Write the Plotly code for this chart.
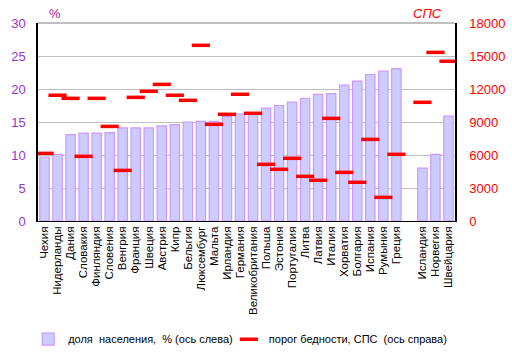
import plotly.graph_objects as go

countries = ["Чехия", "Нидерланды", "Дания", "Словакия", "Финляндия", "Словения", "Венгрия",
             "Франция", "Швеция", "Австрия", "Кипр", "Бельгия", "Люксембург", "Мальта",
             "Ирландия", "Германия", "Великобритания", "Польша", "Эстония", "Португалия",
             "Литва", "Латвия", "Италия", "Хорватия", "Болгария", "Испания", "Румыния", "Греция",
             " ", "Исландия", "Норвегия", "Швейцария"]

share_pct = [9.7, 10.1, 13.1, 13.3, 13.3, 13.4, 14.1, 14.1, 14.1, 14.4, 14.6, 15.0, 15.1, 15.1,
             15.8, 16.2, 16.3, 17.1, 17.5, 18.0, 18.6, 19.2, 19.3, 20.6, 21.2, 22.2, 22.7, 23.1,
             None, 8.0, 10.1, 15.9]

threshold_pps = [6150, 11430, 11150, 5880, 11150, 8600, 4600, 11240, 11790, 12420, 11430, 10970,
                 15970, 8790, 9700, 11520, 9790, 5150, 4700, 5700, 4060, 3700, 9330, 4420, 3520,
                 7420, 2150, 6060, None, 10790, 15330, 14520]

fig = go.Figure()
fig.add_trace(go.Bar(
    x=countries, y=share_pct, name="доля  населения,  % (ось слева)",
    marker=dict(color="#CCCCFF", line=dict(color="#CC99FF", width=1.2)),
    legend="legend",
))
fig.add_trace(go.Scatter(
    x=countries, y=threshold_pps, yaxis="y2", mode="markers",
    name="порог бедности, СПС  (ось справа)",
    marker=dict(symbol="line-ew", size=13, color="#FF0000",
                line=dict(color="#FF0000", width=3.5)),
    legend="legend2",
))

font = "Liberation Sans, Arial, sans-serif"
leg_common = dict(orientation="h", xref="container", yref="container", xanchor="left",
                  y=0.042, yanchor="middle", font=dict(size=11, color="black"),
                  itemwidth=30, bgcolor="rgba(0,0,0,0)")
fig.update_layout(
    width=512, height=354,
    margin=dict(l=38, r=57, t=23, b=133, autoexpand=False),
    paper_bgcolor="white", plot_bgcolor="white",
    bargap=0.28,
    showlegend=True,
    font=dict(family=font, size=12, color="black"),
    xaxis=dict(type="category", tickangle=-90, tickfont=dict(size=11.5, color="black"),
               tickmode="array", tickvals=countries, ticktext=countries,
               showline=True, linecolor="black", linewidth=1, ticks="",
               showgrid=False, range=[-0.5, 31.5], automargin=False),
    yaxis=dict(range=[0, 30], dtick=5, showgrid=True, gridcolor="#C0C0C0", gridwidth=1,
               showline=True, linecolor="black", linewidth=1.5,
               tickfont=dict(size=13, color="#9933CC"), zeroline=False, ticks="",
               ticklabelstandoff=8, automargin=False),
    yaxis2=dict(range=[0, 18000], dtick=3000, tickformat="d", overlaying="y", side="right",
                showgrid=False, showline=True, linecolor="black", linewidth=1.5,
                tickfont=dict(size=13, color="#FF0000"), zeroline=False, ticks="",
                ticklabelstandoff=10, automargin=False),
    legend=dict(x=0.055, **leg_common),
    legend2=dict(x=0.447, **leg_common),
    shapes=[dict(type="line", xref="paper", yref="paper", x0=0, x1=1, y0=1, y1=1,
                 line=dict(color="#808080", width=1))],
    annotations=[
        dict(text="%", xref="paper", yref="paper", x=0.04, y=1.05, showarrow=False,
             font=dict(size=13, color="#B0208F"), xanchor="center", yanchor="middle"),
        dict(text="<i>СПС</i>", xref="paper", yref="paper", x=0.933, y=1.05, showarrow=False,
             font=dict(size=13, color="#FF0000"), xanchor="center", yanchor="middle"),
    ],
)

fig.write_html("out.html")
